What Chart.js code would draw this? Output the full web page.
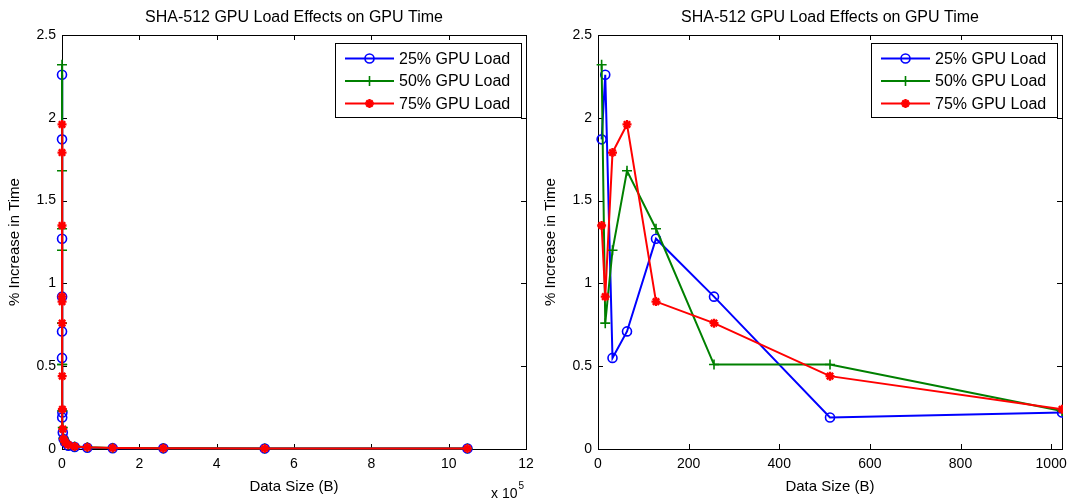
<!DOCTYPE html>
<html>
<head>
<meta charset="utf-8">
<script src="https://cdn.jsdelivr.net/npm/chart.js@4/dist/chart.umd.min.js"></script>
<style>
  body { margin: 0; background: #fff; overflow: hidden; }
  .box { position: absolute; top: 0; height: 501px; }
</style>
</head>
<body>
<div class="box" style="left:0;width:537px"><canvas id="full"></canvas></div>
<div class="box" style="left:536px;width:537px"><canvas id="zoomed"></canvas></div>
<script>
// data sizes in bytes, one point per size
const dataSizes = [8, 16, 32, 64, 128, 256, 512, 1024, 2048, 4096, 8192, 16384, 32768, 65536, 131072, 262144, 524288, 1048576];
const load25 = [1.87, 2.26, 0.55, 0.71, 1.27, 0.92, 0.19, 0.22, 0.10, 0.06, 0.04, 0.02, 0.012, 0.008, 0.005, 0.004, 0.003, 0.003];
const load50 = [2.32, 0.76, 1.20, 1.68, 1.33, 0.51, 0.51, 0.23, 0.13, 0.065, 0.04, 0.025, 0.015, 0.01, 0.006, 0.004, 0.003, 0.003];
const load75 = [1.35, 0.92, 1.79, 1.96, 0.89, 0.76, 0.44, 0.24, 0.12, 0.06, 0.04, 0.025, 0.015, 0.01, 0.006, 0.004, 0.003, 0.003];

const yTicks = [0, 0.5, 1, 1.5, 2, 2.5];
const xTicksFull = [0, 200000, 400000, 600000, 800000, 1000000, 1200000];
const xTicksZoom = [0, 200, 400, 600, 800, 1000];

const FONT = "'Liberation Sans', Arial, sans-serif";
Chart.defaults.font.family = FONT;
Chart.defaults.color = '#000';

function points(ys) {
  return dataSizes.map((x, i) => ({x: x, y: ys[i]}));
}

// matlab style box with ticks pointing inwards, drawn under the data
const boxTicks = {
  id: 'boxTicks',
  beforeDatasetsDraw(chart) {
    const {ctx, chartArea: a, scales: {x, y}} = chart;
    const len = 5;
    ctx.save();
    ctx.strokeStyle = '#000';
    ctx.lineWidth = 1;
    ctx.beginPath();
    x.ticks.forEach(t => {
      const px = Math.round(x.getPixelForValue(t.value)) + 0.5;
      ctx.moveTo(px, a.bottom); ctx.lineTo(px, a.bottom - len);
      ctx.moveTo(px, a.top); ctx.lineTo(px, a.top + len);
    });
    y.ticks.forEach(t => {
      const py = Math.round(y.getPixelForValue(t.value)) + 0.5;
      ctx.moveTo(a.left, py); ctx.lineTo(a.left + len, py);
      ctx.moveTo(a.right, py); ctx.lineTo(a.right - len, py);
    });
    ctx.stroke();
    ctx.strokeRect(Math.round(a.left) + 0.5, Math.round(a.top) + 0.5, Math.round(a.width), Math.round(a.height));
    ctx.restore();
  }
};

const boxLegend = {
  id: 'boxLegend',
  afterDraw(chart) {
    const {ctx, chartArea: a} = chart;
    const w = 186, h = 74;
    const left = Math.round(a.right - 5 - w), top = Math.round(a.top + 8);
    ctx.save();
    ctx.fillStyle = '#fff';
    ctx.fillRect(left, top, w, h);
    ctx.strokeStyle = '#000';
    ctx.lineWidth = 1;
    ctx.strokeRect(left + 0.5, top + 0.5, w, h);
    ctx.font = '16px ' + FONT;
    ctx.textBaseline = 'middle';
    chart.data.datasets.forEach((ds, i) => {
      const yy = top + 15.5 + i * 22.5;
      ctx.strokeStyle = ds.borderColor;
      ctx.lineWidth = ds.borderWidth;
      ctx.beginPath();
      ctx.moveTo(left + 10, yy);
      ctx.lineTo(left + 59, yy);
      ctx.stroke();
      ctx.fillStyle = ds.pointBackgroundColor;
      ctx.lineWidth = ds.pointBorderWidth;
      Chart.helpers.drawPoint(ctx, {pointStyle: ds.pointStyle, radius: ds.pointRadius, borderWidth: ds.pointBorderWidth, rotation: 0}, left + 34.5, yy);
      ctx.fillStyle = '#000';
      ctx.fillText(ds.label, left + 64, yy + 1);
    });
    ctx.restore();
  }
};

// "x 10^5" multiplier under the left axis
const expLabel = {
  id: 'expLabel',
  afterDraw(chart, args, opts) {
    if (!opts.show) return;
    const {ctx, chartArea: a} = chart;
    ctx.save();
    ctx.fillStyle = '#000';
    ctx.textBaseline = 'middle';
    ctx.font = '14px ' + FONT;
    ctx.fillText('x 10', a.right - 35, a.bottom + 45);
    const w = ctx.measureText('x 10').width;
    ctx.font = '10px ' + FONT;
    ctx.fillText('5', a.right - 35 + w + 1, a.bottom + 37);
    ctx.restore();
  }
};

function makeChart(id, xMax, xTicks, xLabel, showExp, clip) {
  return new Chart(document.getElementById(id), {
    type: 'scatter',
    data: {
      datasets: [
        {label: '25% GPU Load', data: points(load25), borderColor: '#0000ff', pointBorderColor: '#0000ff',
         pointBackgroundColor: 'rgba(0,0,0,0)', pointStyle: 'circle', pointRadius: 4.5, pointBorderWidth: 1.6, order: 2},
        {label: '50% GPU Load', data: points(load50), borderColor: '#008000', pointBorderColor: '#008000',
         pointBackgroundColor: '#008000', pointStyle: 'cross', pointRadius: 5, pointBorderWidth: 1.6, order: 1},
        {label: '75% GPU Load', data: points(load75), borderColor: '#ff0000', pointBorderColor: '#ff0000',
         pointBackgroundColor: '#ff0000', pointStyle: 'star', pointRadius: 4.5, pointBorderWidth: 2.4, order: 0}
      ].map(d => Object.assign(d, {showLine: true, borderWidth: 2, fill: false, tension: 0, clip: clip}))
    },
    options: {
      responsive: true,
      maintainAspectRatio: false,
      animation: false,
      events: [],
      layout: {padding: {left: 0, right: 11, top: 0, bottom: 0}},
      scales: {
        x: {
          type: 'linear', min: 0, max: xMax,
          grid: {display: false, drawTicks: false}, border: {display: false},
          afterBuildTicks: s => { s.ticks = xTicks.map(v => ({value: v})); },
          afterFit: s => { s.height = 52; s.paddingLeft = 0; s.paddingRight = 0; },
          ticks: {padding: 7, font: {size: 14}, maxRotation: 0, callback: xLabel},
          title: {display: true, text: 'Data Size (B)', font: {size: 15}, padding: {top: 0, bottom: 5}}
        },
        y: {
          type: 'linear', min: 0, max: 2.5,
          grid: {display: false, drawTicks: false}, border: {display: false},
          afterBuildTicks: s => { s.ticks = yTicks.map(v => ({value: v})); },
          afterFit: s => { s.width = 62; },
          ticks: {padding: 6, font: {size: 14}, callback: v => String(v)},
          title: {display: true, text: '% Increase in Time', font: {size: 15}, padding: {top: 6, bottom: 0}}
        }
      },
      plugins: {
        legend: {display: false},
        tooltip: {enabled: false},
        title: {display: true, text: 'SHA-512 GPU Load Effects on GPU Time', fullSize: false,
                font: {size: 16, weight: 'normal'}, padding: {top: 8, bottom: 7.8}},
        expLabel: {show: showExp}
      }
    },
    plugins: [boxTicks, boxLegend, expLabel]
  });
}

makeChart('full', 1200000, xTicksFull, v => String(v / 100000), true, 8);
makeChart('zoomed', 1024, xTicksZoom, v => String(v), false, {left: 8, top: 8, right: 1, bottom: 8});
</script>
</body>
</html>
